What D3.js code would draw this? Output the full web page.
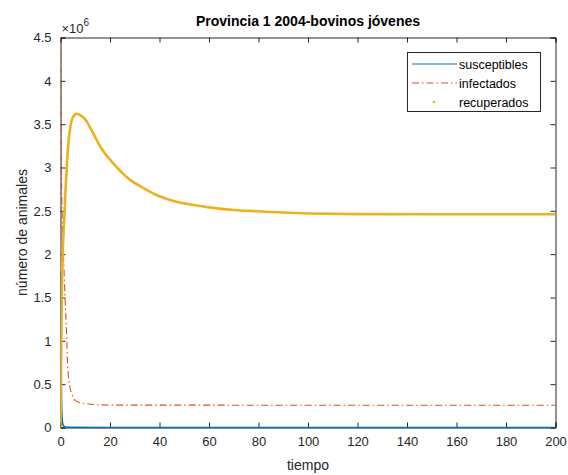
<!DOCTYPE html>
<html>
<head>
<meta charset="utf-8">
<script src="https://cdn.jsdelivr.net/npm/d3@7"></script>
<style>
  html, body { margin: 0; padding: 0; background: #fff; }
  svg { display: block; font-family: "Liberation Sans", Arial, Helvetica, sans-serif; }
</style>
</head>
<body>
<svg id="chart" width="568" height="475"></svg>
<script>
// SIR model output for young cattle, province 1, 2004 (values in millions of animals)
const chartTitle = "Provincia 1 2004-bovinos jóvenes";
const xLabel = "tiempo";
const yLabel = "número de animales";
const seriesNames = ["susceptibles", "infectados", "recuperados"];

const xTicks = [0, 20, 40, 60, 80, 100, 120, 140, 160, 180, 200];
const yTicks = [0, 0.5, 1, 1.5, 2, 2.5, 3, 3.5, 4, 4.5];

const susceptiblesTime = [0, 0.15, 0.3, 0.5, 0.8, 1.2, 2, 5, 20, 200];
const susceptiblesValues = [1.8, 1.1, 0.55, 0.2, 0.06, 0.02, 0.005, 0.001, 0, 0];

const infectadosTime = [0, 0.2, 0.4, 0.7, 1.2, 1.8, 2.5, 2.9, 3.8, 4.8, 5.8, 7.5, 9.9, 15, 25, 200];
const infectadosValues = [4.5, 4.0, 3.0, 2.4, 2.0, 1.51, 1.05, 0.70, 0.47, 0.37, 0.315, 0.29, 0.277, 0.263, 0.258, 0.257];

const recuperadosTime = [0, 0.3, 0.6, 1, 1.5, 2, 2.5, 3.1, 4, 5, 6.3, 7.5, 8.5, 10, 12, 14, 16, 18, 20, 24, 28, 33, 39, 45, 52, 60, 70, 80, 90, 100, 120, 150, 200];
const recuperadosValues = [0, 0.9, 1.65, 2.1, 2.4, 2.72, 2.98, 3.25, 3.47, 3.58, 3.62, 3.612, 3.595, 3.555, 3.46, 3.35, 3.245, 3.16, 3.09, 2.965, 2.86, 2.77, 2.68, 2.62, 2.575, 2.54, 2.51, 2.495, 2.48, 2.47, 2.462, 2.46, 2.46];

const svg = d3.select("#chart");
const axisColor = "#262626";
const plot = { left: 60.5, right: 555.5, top: 37.5, bottom: 427.5 };

const x = d3.scaleLinear().domain([0, 200]).range([plot.left, plot.right]);
const y = d3.scaleLinear().domain([0, 4.5]).range([plot.bottom, plot.top]);

svg.append("defs").append("clipPath").attr("id", "plotClip")
  .append("rect")
  .attr("x", plot.left).attr("y", plot.top - 2)
  .attr("width", plot.right - plot.left).attr("height", plot.bottom - plot.top + 3);

const series = [
  { name: seriesNames[0], t: susceptiblesTime, v: susceptiblesValues, color: "#0072BD", width: 1.6, dash: null, curve: d3.curveMonotoneX },
  { name: seriesNames[1], t: infectadosTime, v: infectadosValues, color: "#D95319", width: 1.1, dash: "7,3,1.5,3", curve: d3.curveMonotoneX },
  { name: seriesNames[2], t: recuperadosTime, v: recuperadosValues, color: "#EDB120", width: 2.6, dash: null, curve: d3.curveCatmullRom.alpha(0.5) }
];

// boxed axes with inward ticks on all four sides
const tickLen = 5;
const bottomAxis = d3.axisBottom(x).tickValues(xTicks).tickSize(-tickLen).tickPadding(9).tickFormat(d3.format("d"));
const topAxis = d3.axisTop(x).tickValues(xTicks).tickSize(-tickLen).tickFormat("");
const leftAxis = d3.axisLeft(y).tickValues(yTicks).tickSize(-tickLen).tickPadding(9).tickFormat(d => d3.format("")(d));
const rightAxis = d3.axisRight(y).tickValues(yTicks).tickSize(-tickLen).tickFormat("");

function styleAxis(sel) {
  sel.selectAll(".domain").attr("stroke", axisColor).attr("stroke-width", 1);
  sel.selectAll(".tick line").attr("stroke", axisColor).attr("stroke-width", 1);
  sel.selectAll(".tick text").attr("fill", axisColor).attr("font-size", 13)
    .attr("font-family", "Liberation Sans, Arial, sans-serif");
}

svg.append("g").attr("transform", `translate(0,${plot.bottom})`).call(bottomAxis).call(styleAxis);
svg.append("g").attr("transform", `translate(0,${plot.top})`).call(topAxis).call(styleAxis);
svg.append("g").attr("transform", `translate(${plot.left},0)`).call(leftAxis).call(styleAxis);
svg.append("g").attr("transform", `translate(${plot.right},0)`).call(rightAxis).call(styleAxis);

// series drawn on top of the axes so the flat susceptibles line shows over the baseline
const g = svg.append("g").attr("clip-path", "url(#plotClip)");
series.forEach(s => {
  const line = d3.line()
    .x(d => x(d[0]))
    .y(d => y(d[1]))
    .curve(s.curve);
  g.append("path")
    .datum(s.t.map((t, i) => [t, s.v[i]]))
    .attr("d", line)
    .attr("fill", "none")
    .attr("stroke", s.color)
    .attr("stroke-width", s.width)
    .attr("stroke-linejoin", "round")
    .attr("stroke-dasharray", s.dash);
});

// exponent label
const expo = svg.append("text")
  .attr("x", plot.left + 1).attr("y", 33)
  .attr("fill", axisColor).attr("font-size", 13);
expo.append("tspan").text("×10");
expo.append("tspan").attr("dy", -7).attr("font-size", 10).text("6");

// title
svg.append("text")
  .attr("x", (plot.left + plot.right) / 2).attr("y", 26)
  .attr("text-anchor", "middle").attr("font-weight", "bold")
  .attr("font-size", 14).attr("fill", "#000")
  .text(chartTitle);

// axis labels
svg.append("text")
  .attr("x", (plot.left + plot.right) / 2).attr("y", 470)
  .attr("text-anchor", "middle").attr("font-size", 14).attr("fill", axisColor)
  .text(xLabel);

svg.append("text")
  .attr("transform", `translate(27,${(plot.top + plot.bottom) / 2}) rotate(-90)`)
  .attr("text-anchor", "middle").attr("font-size", 14).attr("fill", axisColor)
  .text(yLabel);

// legend
const legend = svg.append("g").attr("transform", "translate(407,52)");
legend.append("rect")
  .attr("x", 0.5).attr("y", 0.5).attr("width", 133).attr("height", 59)
  .attr("fill", "#fff").attr("stroke", axisColor).attr("stroke-width", 1);

series.forEach((s, i) => {
  const cy = 12 + i * 19;
  if (s.name === "recuperados") {
    legend.append("circle")
      .attr("cx", 27).attr("cy", cy).attr("r", 1.3).attr("fill", s.color);
  } else {
    legend.append("line")
      .attr("x1", 5).attr("x2", 50).attr("y1", cy).attr("y2", cy)
      .attr("stroke", s.color).attr("stroke-width", 1.1)
      .attr("stroke-dasharray", s.dash);
  }
  legend.append("text")
    .attr("x", 52).attr("y", cy + 4.5)
    .attr("font-size", 12.5).attr("fill", "#000")
    .text(s.name);
});
</script>
</body>
</html>
